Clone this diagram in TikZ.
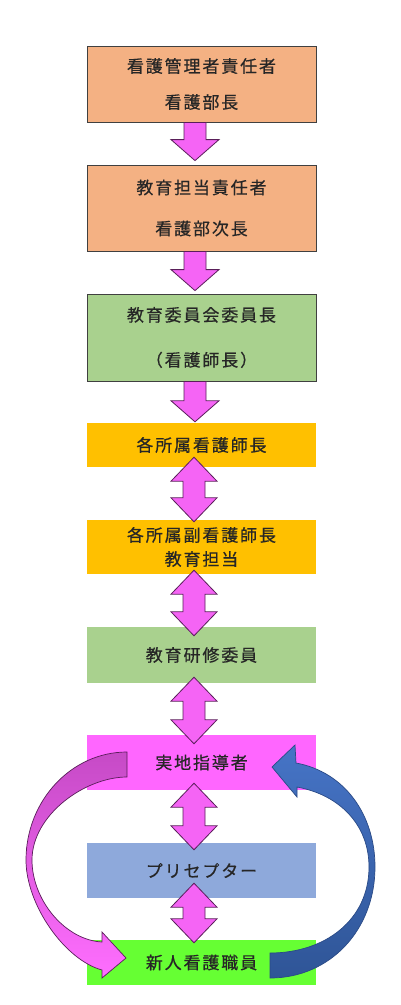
\documentclass[tikz,border=0pt]{standalone}
\usepackage{fontspec}
\newfontfamily\jp[LetterSpace=11,FakeBold=0.6]{Noto Sans CJK JP}
\usetikzlibrary{calc}
\definecolor{salmon}{HTML}{F4B183}
\definecolor{boxgreen}{HTML}{A9D18E}
\definecolor{boxorange}{HTML}{FFC000}
\definecolor{boxmagenta}{HTML}{FF66FF}
\definecolor{boxblue}{HTML}{8EA9DB}
\definecolor{boxlime}{HTML}{66FF33}
\definecolor{bordergray}{HTML}{404040}
\definecolor{arrowpink}{HTML}{F564F5}
\definecolor{arrowline}{HTML}{5A1E5A}
\definecolor{curvetop}{HTML}{C64AC6}
\definecolor{curvebot}{HTML}{FF6EFF}
\definecolor{bluetop}{HTML}{4674C6}
\definecolor{bluebot}{HTML}{2F5597}
\definecolor{blueline}{HTML}{2A4A86}
\definecolor{textgray}{HTML}{262626}
\newcommand\downarr[4]{%
  \coordinate (s) at ($(#1.south)+(#3,0)$);
  \coordinate (t) at ($(#2.north)+(#3,-#4)$);
  \draw[parr] ($(s)+(-11,0)$) -- ($(t)+(-11,-21)$) -- ($(t)+(-24,-21)$) -- (t)
    -- ($(t)+(24,-21)$) -- ($(t)+(11,-21)$) -- ($(s)+(11,0)$) -- cycle;}
\newcommand\dblarr[5]{%
  \coordinate (t) at ($(#1.south)+(#3,-#4)$);
  \coordinate (u) at ($(#2.north)+(#3,#5)$);
  \draw[parr] (t) -- ($(t)+(23,24)$) -- ($(t)+(11,24)$) -- ($(u)+(11,-24)$)
    -- ($(u)+(23,-24)$) -- (u) -- ($(u)+(-23,-24)$) -- ($(u)+(-11,-24)$)
    -- ($(t)+(-11,24)$) -- ($(t)+(-23,24)$) -- cycle;}
\begin{document}
\begin{tikzpicture}[x=1pt,y=-1pt,
  box/.style={minimum width=229pt, inner sep=0pt, align=center,
    font=\jp\fontsize{17}{20}\selectfont, text=textgray},
  framed/.style={draw=bordergray, line width=0.8pt},
  parr/.style={fill=arrowpink, draw=arrowline, line width=0.8pt, line join=miter}]
\useasboundingbox (0,0) rectangle (400,1005);
\fill[white] (0,0) rectangle (400,1005);
% boxes
\node[box, framed, fill=salmon, minimum height=76pt] (b1) at (201.5,84) {看護管理者責任者\\[16pt]看護部長};
\node[box, framed, fill=salmon, minimum height=86pt] (b2) at (201.5,208) {教育担当責任者\\[21pt]看護部次長};
\node[box, framed, fill=boxgreen, minimum height=87pt] (b3) at (201.5,337.5) {教育委員会委員長\\[25pt]（看護師長）};
\node[box, fill=boxorange, minimum height=44pt] (b4) at (201.5,445) {各所属看護師長};
\node[box, fill=boxorange, minimum height=54pt] (b5) at (201.5,547) {各所属副看護師長\\[4pt]教育担当};
\node[box, fill=boxgreen, minimum height=56pt] (b6) at (201.5,655) {教育研修委員};
\node[box, fill=boxmagenta, minimum height=55pt] (b7) at (201.5,762.5) {実地指導者};
\node[box, fill=boxblue, minimum height=55pt] (b8) at (201.5,870.5) {プリセプター};
\node[box, fill=boxlime, minimum height=45pt] (b9) at (201.5,962.5) {新人看護職員};
% block arrows
\downarr{b1}{b2}{-6.5}{4}
\downarr{b2}{b3}{-6.5}{3}
\downarr{b3}{b4}{-6.5}{1}
\dblarr{b4}{b5}{-7.5}{10}{2}
\dblarr{b5}{b6}{-7.5}{4}{9}
\dblarr{b6}{b7}{-7.5}{6}{9}
\dblarr{b7}{b8}{-7.5}{7}{7}
\dblarr{b8}{b9}{-7.5}{15}{3}
% curved arrows
\draw[draw=arrowline, line width=0.7pt, top color=curvetop, bottom color=curvebot, line join=miter]
  (127,752) .. controls (71,752) and (26,801) .. (26,860)
  .. controls (26,905) and (65,960) .. (102,970)
  -- (102,978) -- (126,958) -- (102,932) -- (102,942)
  .. controls (65,940) and (32,900) .. (32,860)
  .. controls (32,815) and (85,777) .. (127,777) -- cycle;
\draw[draw=blueline, line width=0.7pt, top color=bluetop, bottom color=bluebot, line join=miter]
  (270,978) .. controls (330,978) and (375,930) .. (375,867)
  .. controls (375,815) and (345,772) .. (296,763)
  -- (295,745) -- (272,767) -- (297,797) -- (297,787)
  .. controls (340,795) and (369,825) .. (369,867)
  .. controls (369,920) and (325,953) .. (270,953) -- cycle;
\end{tikzpicture}
\end{document}
